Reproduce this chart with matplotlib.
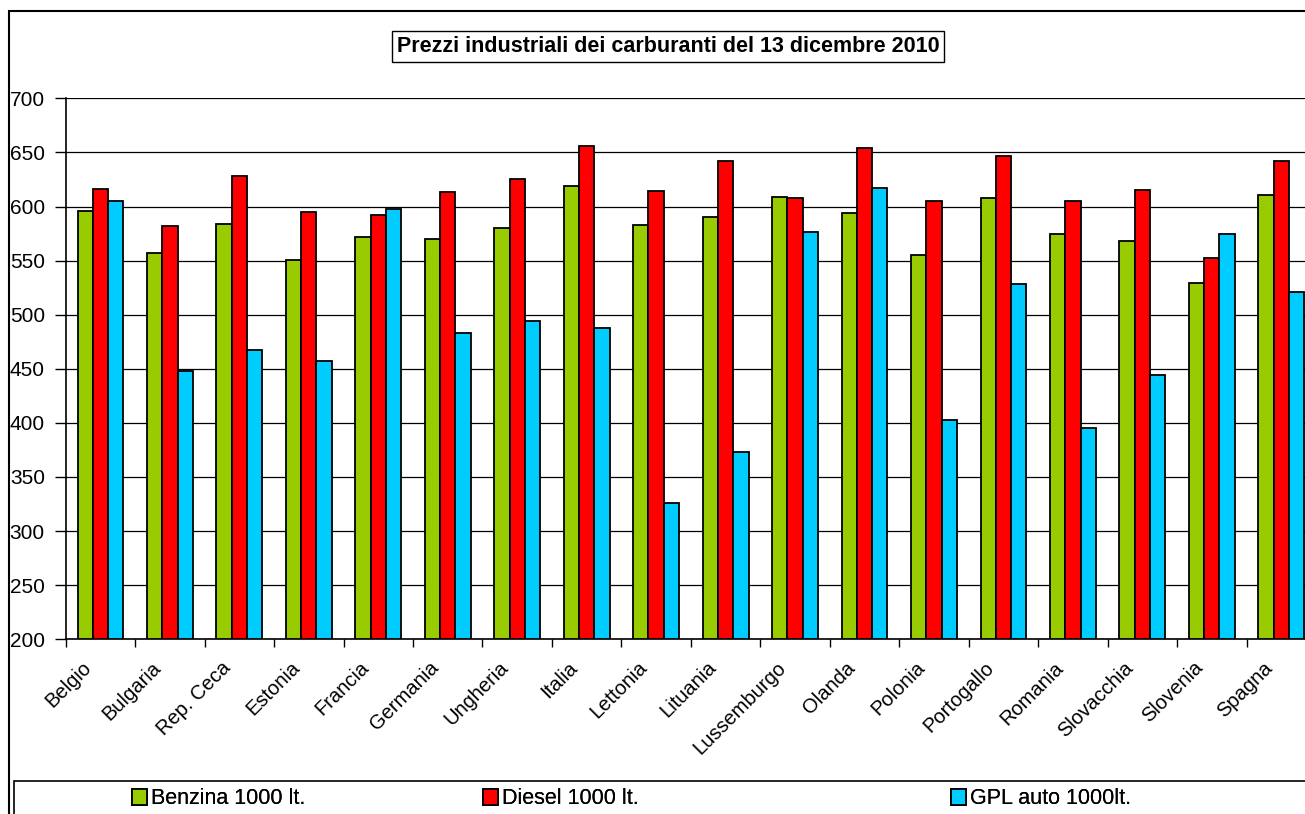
import numpy as np
import matplotlib
matplotlib.use('Agg')
import matplotlib.pyplot as plt
from matplotlib.patches import Rectangle
from matplotlib.transforms import ScaledTranslation

paesi = ['Belgio', 'Bulgaria', 'Rep. Ceca', 'Estonia', 'Francia', 'Germania',
         'Ungheria', 'Italia', 'Lettonia', 'Lituania', 'Lussemburgo', 'Olanda',
         'Polonia', 'Portogallo', 'Romania', 'Slovacchia', 'Slovenia', 'Spagna']
benzina = [596, 557, 584, 551, 572, 570, 580, 619, 583, 590, 609, 594, 555, 608, 575, 568, 529, 611]
diesel = [616, 582, 628, 595, 592, 613, 625, 656, 614, 642, 608, 654, 605, 647, 605, 615, 552, 642]
gpl = [605, 448, 467, 457, 598, 483, 494, 488, 326, 373, 576, 617, 403, 528, 395, 444, 575, 521]
serie = ['Benzina 1000 lt.', 'Diesel 1000 lt.', 'GPL auto 1000lt.']
colori = ['#99cc00', '#ff0000', '#00ccff']

plt.rcParams['font.family'] = ['Liberation Sans', 'DejaVu Sans']

W, H = 1305, 814
fig = plt.figure(figsize=(W / 100, H / 100), dpi=100)

# plot area (right side runs past the picture edge, as in the original)
x0, x1, y_top, y_bot = 65.7, 1316, 98.3, 639.3
ax = fig.add_axes([x0 / W, 1 - y_bot / H, (x1 - x0) / W, (y_bot - y_top) / H])

x = np.arange(len(paesi))
bw = 0.22
for i, (vals, c, lab) in enumerate(zip([benzina, diesel, gpl], colori, serie)):
    ax.bar(x + (i - 1) * bw, np.array(vals) - 200, bottom=200, width=bw,
           color=c, edgecolor='black', linewidth=1.3, label=lab, zorder=3)

ax.set_xlim(-0.5, len(paesi) - 0.5)
ax.set_ylim(200, 700)
ax.set_yticks(range(200, 701, 50))
ax.yaxis.grid(True, color='black', linewidth=0.9, zorder=0)
ax.set_axisbelow(True)
ax.tick_params(axis='y', labelsize=15, length=8, width=1, pad=7)

ax.set_xticks(x)
ax.set_xticklabels(paesi, rotation=45, ha='right', va='center',
                   rotation_mode='anchor', fontsize=14.5)
ax.tick_params(axis='x', which='major', length=0, pad=14)
off = ScaledTranslation(-0.12, -0.06, fig.dpi_scale_trans)
for lab in ax.get_xticklabels():
    lab.set_transform(lab.get_transform() + off)
ax.set_xticks(np.arange(-0.5, len(paesi)), minor=True)
ax.tick_params(axis='x', which='minor', length=6, width=1)

for s in ['top', 'right']:
    ax.spines[s].set_visible(False)
ax.spines['left'].set_linewidth(1.2)
ax.spines['bottom'].set_linewidth(1.2)

# title box
fig.text(668 / W, 1 - 46.5 / H, 'Prezzi industriali dei carburanti del 13 dicembre 2010',
         ha='center', va='center', fontsize=15.5, fontweight='bold',
         bbox=dict(boxstyle='square,pad=0.22', facecolor='white', edgecolor='black', linewidth=1))

# outer chart border and legend box
fig.patches.append(Rectangle((8.5 / W, -0.1), 1.2, 1 - 11 / H + 0.1, transform=fig.transFigure,
                             fill=False, edgecolor='black', linewidth=1.5))
fig.patches.append(Rectangle((14 / W, -0.1), 1.2, (H - 781) / H + 0.1, transform=fig.transFigure,
                             fill=False, edgecolor='black', linewidth=1.2))

handles, labels = ax.get_legend_handles_labels()
leg_x = [132, 483, 951]
for h, l, lx in zip(handles, labels, leg_x):
    lg = fig.legend([h], [l], loc='center left', bbox_to_anchor=(lx / W, 1 - 799 / H),
                    frameon=False, fontsize=15.5, handlelength=0.7, handleheight=0.75,
                    handletextpad=0.2, borderpad=0, borderaxespad=0)
    fig.add_artist(lg)

fig.savefig('out.png', dpi=100)
